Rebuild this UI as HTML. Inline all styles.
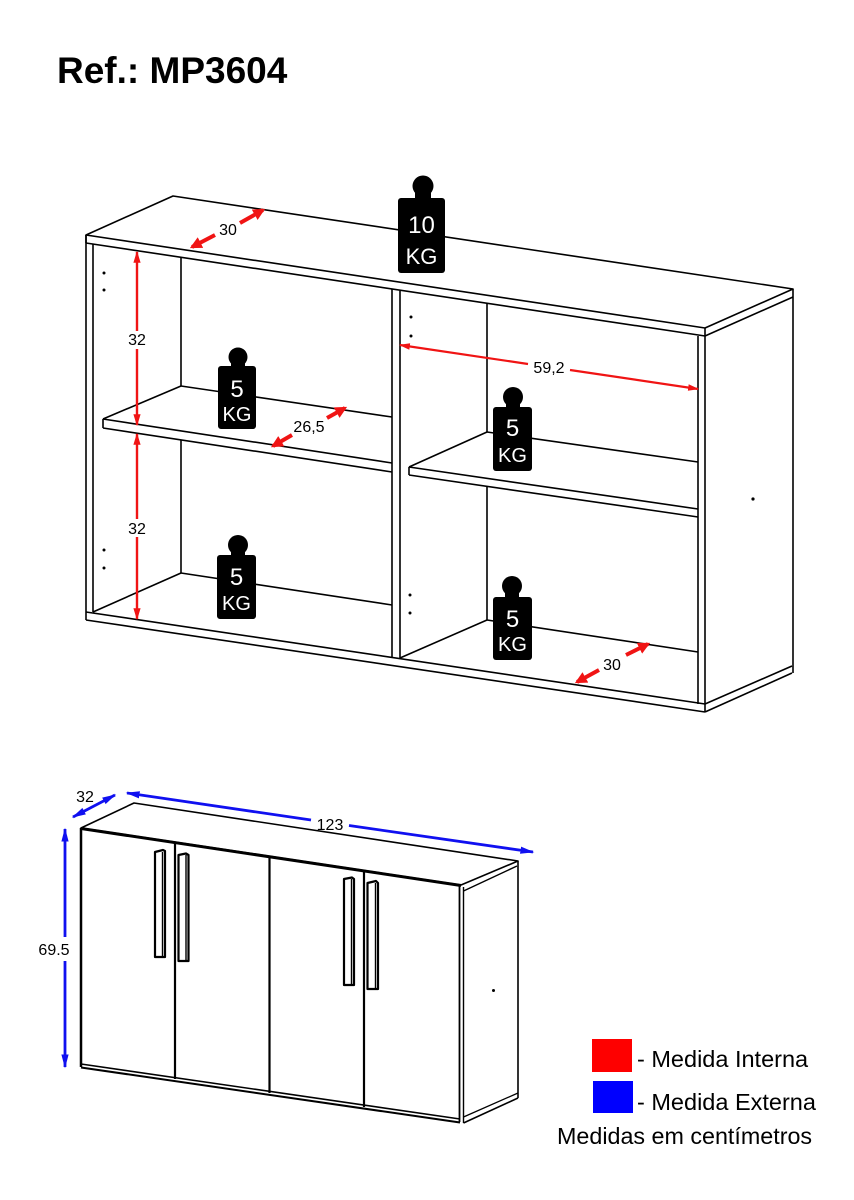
<!DOCTYPE html>
<html>
<head>
<meta charset="utf-8">
<style>
  html, body { margin: 0; padding: 0; background: #fff; }
  body { width: 854px; height: 1200px; overflow: hidden; }
  svg { display: block; }
  text { font-family: "Liberation Sans", Arial, sans-serif; }
</style>
</head>
<body>
<svg width="854" height="1200" viewBox="0 0 854 1200" xmlns="http://www.w3.org/2000/svg">
  <defs>
    <marker id="rThick" viewBox="0 0 10 10" refX="8" refY="5" markerWidth="3" markerHeight="3" orient="auto">
      <path d="M0,0 L10,5 L0,10 z" fill="#f01414"/>
    </marker>
    <marker id="rThin" viewBox="0 0 10 10" refX="9" refY="5" markerWidth="5" markerHeight="5" orient="auto">
      <path d="M0,2 L10,5 L0,8 z" fill="#f01414"/>
    </marker>
    <marker id="bArr" viewBox="0 0 10 10" refX="9" refY="5" markerWidth="5" markerHeight="5" orient="auto-start-reverse">
      <path d="M0,2.4 L10,5 L0,7.6 z" fill="#1010f0"/>
    </marker>
  </defs>

  <rect width="854" height="1200" fill="#fff"/>

  <!-- Title -->
  <text x="57" y="83" font-size="37" font-weight="bold" fill="#000">Ref.: MP3604</text>

  <!-- ================= TOP CABINET ================= -->
  <g stroke="#000" stroke-width="1.6" fill="none" stroke-linejoin="round">
    <polygon points="86,235 173,196 793,289 705,328" fill="#fff"/>
    <line x1="86" y1="243" x2="705" y2="336"/>
    <line x1="86" y1="235" x2="86" y2="243"/>
    <line x1="705" y1="336" x2="793" y2="297"/>
    <line x1="793" y1="289" x2="793" y2="673"/>
    <line x1="705" y1="328" x2="705" y2="712"/>
    <line x1="698" y1="336" x2="698" y2="704"/>
    <line x1="705" y1="704" x2="792" y2="666"/>
    <line x1="705" y1="712" x2="792" y2="673"/>
    <line x1="86" y1="235" x2="86" y2="620"/>
    <line x1="93" y1="244" x2="93" y2="612"/>
    <line x1="86" y1="612" x2="705" y2="704"/>
    <line x1="86" y1="620" x2="705" y2="712"/>
    <line x1="392" y1="289.5" x2="392" y2="657.5"/>
    <line x1="400" y1="290.7" x2="400" y2="658.8"/>

    <line x1="181" y1="257.3" x2="181" y2="386"/>
    <line x1="181" y1="440" x2="181" y2="573"/>
    <line x1="103" y1="419" x2="181" y2="386"/>
    <line x1="181" y1="386" x2="392" y2="417"/>
    <line x1="103" y1="419" x2="392" y2="463"/>
    <line x1="103" y1="428" x2="392" y2="472"/>
    <line x1="103" y1="419" x2="103" y2="428"/>
    <line x1="93" y1="612" x2="181" y2="573"/>
    <line x1="181" y1="573" x2="392" y2="605"/>

    <line x1="487" y1="303.5" x2="487" y2="432"/>
    <line x1="487" y1="486" x2="487" y2="620"/>
    <line x1="409" y1="467" x2="487" y2="432"/>
    <line x1="487" y1="432" x2="698" y2="462"/>
    <line x1="409" y1="467" x2="698" y2="509"/>
    <line x1="409" y1="475" x2="698" y2="517"/>
    <line x1="409" y1="467" x2="409" y2="475"/>
    <line x1="400" y1="658" x2="487" y2="620"/>
    <line x1="487" y1="620" x2="698" y2="652"/>
  </g>

  <g fill="#000">
    <circle cx="104" cy="273" r="1.5"/>
    <circle cx="104" cy="290" r="1.5"/>
    <circle cx="104" cy="550" r="1.5"/>
    <circle cx="104" cy="568" r="1.5"/>
    <circle cx="411" cy="317" r="1.5"/>
    <circle cx="411" cy="336" r="1.5"/>
    <circle cx="410" cy="595" r="1.5"/>
    <circle cx="410" cy="613" r="1.5"/>
    <circle cx="753" cy="499" r="1.6"/>
  </g>

  <!-- 10 KG -->
  <g fill="#000">
    <circle cx="423" cy="186" r="10.5"/>
    <rect x="415" y="192" width="16" height="9"/>
    <rect x="398" y="198" width="47" height="75" rx="3"/>
  </g>
  <text x="421.5" y="233" font-size="24" fill="#fff" text-anchor="middle">10</text>
  <text x="421.5" y="264" font-size="22" fill="#fff" text-anchor="middle">KG</text>

  <!-- 5 KG left shelf -->
  <g fill="#000">
    <circle cx="238" cy="357" r="9.5"/>
    <rect x="231" y="362" width="14" height="7"/>
    <rect x="218" y="366" width="38" height="63" rx="3"/>
  </g>
  <text x="237" y="397" font-size="24" fill="#fff" text-anchor="middle">5</text>
  <text x="237" y="421" font-size="20" fill="#fff" text-anchor="middle">KG</text>

  <!-- 5 KG right shelf -->
  <g fill="#000">
    <circle cx="513" cy="397" r="10"/>
    <rect x="506" y="402" width="14" height="7"/>
    <rect x="493" y="407" width="39" height="64" rx="3"/>
  </g>
  <text x="512.5" y="436" font-size="24" fill="#fff" text-anchor="middle">5</text>
  <text x="512.5" y="462" font-size="20" fill="#fff" text-anchor="middle">KG</text>

  <!-- 5 KG lower left -->
  <g fill="#000">
    <circle cx="238" cy="545" r="10"/>
    <rect x="231" y="550" width="14" height="7"/>
    <rect x="217" y="555" width="39" height="64" rx="3"/>
  </g>
  <text x="236.5" y="585" font-size="24" fill="#fff" text-anchor="middle">5</text>
  <text x="236.5" y="610" font-size="20" fill="#fff" text-anchor="middle">KG</text>

  <!-- 5 KG lower right -->
  <g fill="#000">
    <circle cx="512" cy="586" r="10"/>
    <rect x="505" y="591" width="14" height="8"/>
    <rect x="493" y="597" width="39" height="63" rx="3"/>
  </g>
  <text x="512.5" y="627" font-size="24" fill="#fff" text-anchor="middle">5</text>
  <text x="512.5" y="651" font-size="20" fill="#fff" text-anchor="middle">KG</text>

  <!-- red dimensions -->
  <g stroke="#f01414" fill="none">
    <line x1="215" y1="235" x2="192" y2="247" stroke-width="4" marker-end="url(#rThick)"/>
    <line x1="240" y1="223" x2="263" y2="210" stroke-width="4" marker-end="url(#rThick)"/>
    <line x1="292" y1="435" x2="273" y2="446" stroke-width="4" marker-end="url(#rThick)"/>
    <line x1="327" y1="418" x2="345" y2="408" stroke-width="4" marker-end="url(#rThick)"/>
    <line x1="599" y1="670" x2="577" y2="682" stroke-width="4" marker-end="url(#rThick)"/>
    <line x1="626" y1="655" x2="648" y2="644" stroke-width="4" marker-end="url(#rThick)"/>
    <line x1="137" y1="331" x2="137" y2="252" stroke-width="2.4" marker-end="url(#rThin)"/>
    <line x1="137" y1="349" x2="137" y2="425" stroke-width="2.4" marker-end="url(#rThin)"/>
    <line x1="137" y1="519" x2="137" y2="434" stroke-width="2.4" marker-end="url(#rThin)"/>
    <line x1="137" y1="537" x2="137" y2="619" stroke-width="2.4" marker-end="url(#rThin)"/>
    <line x1="528" y1="364" x2="400" y2="345" stroke-width="2.2" marker-end="url(#rThin)"/>
    <line x1="570" y1="370" x2="698" y2="389" stroke-width="2.2" marker-end="url(#rThin)"/>
  </g>
  <g font-size="16" fill="#000" text-anchor="middle">
    <text x="228" y="235">30</text>
    <text x="309" y="432">26,5</text>
    <text x="612" y="670">30</text>
    <text x="137" y="345">32</text>
    <text x="137" y="534">32</text>
    <text x="549" y="373">59,2</text>
  </g>

  <!-- ================= BOTTOM CABINET ================= -->
  <g stroke="#000" fill="none" stroke-linejoin="round">
    <polygon points="81,828 134,803 518,861 461,885" fill="#fff" stroke-width="1.6"/>
    <line x1="81" y1="828.5" x2="461" y2="885.5" stroke-width="3"/>
    <line x1="81" y1="828" x2="81" y2="1067" stroke-width="2.5"/>
    <line x1="81" y1="1064" x2="460" y2="1119" stroke-width="1.6"/>
    <line x1="81" y1="1067.5" x2="460" y2="1122.5" stroke-width="2"/>
    <line x1="175" y1="842" x2="175" y2="1079" stroke-width="2.2"/>
    <line x1="269.5" y1="856" x2="269.5" y2="1093" stroke-width="2.2"/>
    <line x1="364" y1="870" x2="364" y2="1107" stroke-width="2.2"/>
    <line x1="459.5" y1="885" x2="459.5" y2="1122" stroke-width="1.8"/>
    <line x1="463.5" y1="887" x2="463.5" y2="1123" stroke-width="1.4"/>
    <line x1="463.5" y1="891" x2="517" y2="866" stroke-width="1.4"/>
    <line x1="518" y1="861" x2="518" y2="1098" stroke-width="1.6"/>
    <line x1="463.5" y1="1123" x2="518" y2="1098" stroke-width="1.6"/>
    <line x1="463.5" y1="1117" x2="518" y2="1093" stroke-width="1.3"/>

    <g stroke-width="2.2" fill="#fff">
      <polygon points="155,852 163,850 165,851 165,957 155,957"/>
      <line x1="162.5" y1="852" x2="162.5" y2="957" stroke-width="1.4"/>
      <polygon points="178.5,855 186,853.5 188.5,855 188.5,961 178.5,961"/>
      <line x1="186" y1="855" x2="186" y2="961" stroke-width="1.4"/>
      <polygon points="344,879 352,877.5 354,879 354,985 344,985"/>
      <line x1="351.5" y1="879" x2="351.5" y2="985" stroke-width="1.4"/>
      <polygon points="367.5,883 376,881 378,883 378,989 367.5,989"/>
      <line x1="375.5" y1="883" x2="375.5" y2="989" stroke-width="1.4"/>
    </g>
  </g>
  <circle cx="493.5" cy="990.5" r="1.5" fill="#000"/>

  <!-- blue dimensions -->
  <g stroke="#1010f0" stroke-width="2.8" fill="none">
    <line x1="73" y1="817" x2="115" y2="795" marker-start="url(#bArr)" marker-end="url(#bArr)"/>
    <line x1="311" y1="820" x2="127" y2="793" marker-end="url(#bArr)"/>
    <line x1="349" y1="825.5" x2="533" y2="852" marker-end="url(#bArr)"/>
    <line x1="65" y1="937" x2="65" y2="829" marker-end="url(#bArr)"/>
    <line x1="65" y1="961" x2="65" y2="1067" marker-end="url(#bArr)"/>
  </g>
  <g font-size="16" fill="#000" text-anchor="middle">
    <text x="85" y="802">32</text>
    <text x="330" y="830">123</text>
    <text x="54" y="955">69.5</text>
  </g>

  <!-- legend -->
  <rect x="592" y="1039" width="40" height="33" fill="#fe0000"/>
  <rect x="593" y="1081" width="40" height="32" fill="#0000fe"/>
  <g font-size="23.5" fill="#000">
    <text x="637" y="1067">- Medida Interna</text>
    <text x="637" y="1110">- Medida Externa</text>
    <text x="557" y="1144" font-size="23.3">Medidas em centímetros</text>
  </g>
</svg>
</body>
</html>
